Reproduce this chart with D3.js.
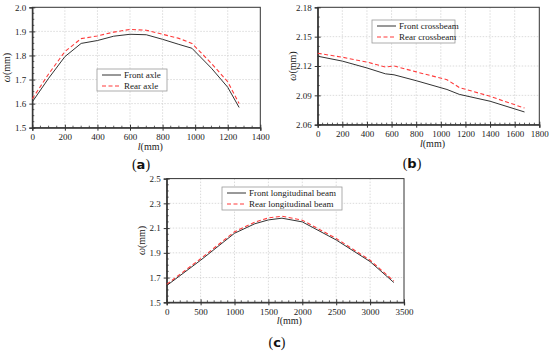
<!DOCTYPE html>
<html>
<head>
<meta charset="utf-8">
<script src="https://cdn.jsdelivr.net/npm/d3@7"></script>
<style>
  body { margin: 0; background: #fff; }
  svg text { font-family: "Liberation Serif", "DejaVu Serif", serif; }
</style>
</head>
<body>
<svg id="chart" width="550" height="353"></svg>
<script>
// Data
const axleL = [0, 100, 200, 300, 400, 500, 600, 700, 800, 900, 980, 1100, 1200, 1270];
const frontAxle = [1.607, 1.705, 1.795, 1.850, 1.862, 1.880, 1.888, 1.886, 1.867, 1.846, 1.830, 1.747, 1.668, 1.584];
const rearAxle  = [1.620, 1.723, 1.816, 1.870, 1.881, 1.897, 1.908, 1.905, 1.888, 1.871, 1.850, 1.767, 1.691, 1.600];

const crossL = [0, 200, 400, 550, 620, 800, 1050, 1150, 1400, 1680];
const frontCross = [2.130, 2.125, 2.118, 2.112, 2.111, 2.105, 2.096, 2.091, 2.084, 2.073];
const rearCross  = [2.133, 2.129, 2.124, 2.119, 2.120, 2.114, 2.106, 2.098, 2.089, 2.077];

const longL = [0, 500, 1000, 1300, 1500, 1700, 2000, 2500, 3000, 3350];
const frontLong = [1.635, 1.840, 2.058, 2.135, 2.166, 2.180, 2.150, 2.004, 1.829, 1.660];
const rearLong  = [1.645, 1.852, 2.070, 2.148, 2.182, 2.196, 2.164, 2.016, 1.840, 1.672];

const panels = [
    { tag: '(a)', xs: axleL, front: frontAxle, rear: rearAxle,
      names: ['Front axle', 'Rear axle'],
      xTicks: [0, 200, 400, 600, 800, 1000, 1200, 1400], yTicks: [1.5, 1.6, 1.7, 1.8, 1.9, 2.0],
      xMinor: 4, yMinor: 4, yFmt: '.1f',
      box: { l: 32.3, r: 260.3, t: 7.3, b: 127.7 },
      legend: { x: 97, y: 69, w: 70, h: 22 }, tagPos: [141, 164] },
    { tag: '(b)', xs: crossL, front: frontCross, rear: rearCross,
      names: ['Front crossbeam', 'Rear crossbeam'],
      xTicks: [0, 200, 400, 600, 800, 1000, 1200, 1400, 1600, 1800], yTicks: [2.06, 2.09, 2.12, 2.15, 2.18],
      xMinor: 5, yMinor: 3, yFmt: '.2f',
      box: { l: 317.7, r: 539.3, t: 7.3, b: 124.7 },
      legend: { x: 372, y: 20, w: 83, h: 23 }, tagPos: [412, 163] },
    { tag: '(c)', xs: longL, front: frontLong, rear: rearLong,
      names: ['Front longitudinal beam', 'Rear longitudinal beam'],
      xTicks: [0, 500, 1000, 1500, 2000, 2500, 3000, 3500], yTicks: [1.5, 1.7, 1.9, 2.1, 2.3, 2.5],
      xMinor: 5, yMinor: 4, yFmt: '.1f',
      box: { l: 166.7, r: 404, t: 178.6, b: 302.3 },
      legend: { x: 222, y: 187, w: 120, h: 23 }, tagPos: [277, 342] }
];

const svg = d3.select('#chart');
panels.forEach(drawPanel);

function drawPanel(p) {
    const b = p.box;
    const x = d3.scaleLinear().domain(d3.extent(p.xTicks)).range([b.l, b.r]);
    const y = d3.scaleLinear().domain(d3.extent(p.yTicks)).range([b.b, b.t]);
    const g = svg.append('g');

    // dotted grid
    g.selectAll('.gx').data(p.xTicks.slice(1, -1)).enter().append('line')
        .attr('x1', d => x(d)).attr('x2', d => x(d)).attr('y1', b.t).attr('y2', b.b)
        .attr('stroke', '#ccc').attr('stroke-width', 0.7).attr('stroke-dasharray', '1.5,1.5');
    g.selectAll('.gy').data(p.yTicks.slice(1, -1)).enter().append('line')
        .attr('x1', b.l).attr('x2', b.r).attr('y1', d => y(d)).attr('y2', d => y(d))
        .attr('stroke', '#ccc').attr('stroke-width', 0.7).attr('stroke-dasharray', '1.5,1.5');

    // frame
    g.append('rect').attr('x', b.l).attr('y', b.t).attr('width', b.r - b.l).attr('height', b.b - b.t)
        .attr('fill', 'none').attr('stroke', '#333').attr('stroke-width', 1);

    // minor ticks
    const xMinor = [];
    for (let i = 0; i < p.xTicks.length - 1; i++) {
        const step = (p.xTicks[i + 1] - p.xTicks[i]) / p.xMinor;
        for (let k = 1; k < p.xMinor; k++) xMinor.push(p.xTicks[i] + k * step);
    }
    const yMinor = [];
    for (let i = 0; i < p.yTicks.length - 1; i++) {
        const step = (p.yTicks[i + 1] - p.yTicks[i]) / p.yMinor;
        for (let k = 1; k < p.yMinor; k++) yMinor.push(p.yTicks[i] + k * step);
    }

    const xAxis = g.append('g').attr('transform', `translate(0,${b.b})`)
        .call(d3.axisBottom(x).tickValues(p.xTicks).tickSize(3).tickPadding(3).tickFormat(d3.format('d')));
    const yAxis = g.append('g').attr('transform', `translate(${b.l},0)`)
        .call(d3.axisLeft(y).tickValues(p.yTicks).tickSize(3).tickPadding(3).tickFormat(d3.format(p.yFmt)));
    [xAxis, yAxis].forEach(a => {
        a.attr('font-family', 'Liberation Serif').attr('font-size', 9);
        a.select('.domain').attr('stroke', '#333').attr('stroke-width', 1.3);
        a.selectAll('.tick line').attr('stroke', '#333');
        a.selectAll('text').attr('fill', '#222');
    });
    xAxis.selectAll('.tick line').attr('y1', -3).attr('y2', 3);
    yAxis.selectAll('.tick line').attr('x1', -3).attr('x2', 3);

    g.selectAll('.mx').data(xMinor).enter().append('line')
        .attr('x1', d => x(d)).attr('x2', d => x(d)).attr('y1', b.b - 2).attr('y2', b.b)
        .attr('stroke', '#333').attr('stroke-width', 0.8);
    g.selectAll('.my').data(yMinor).enter().append('line')
        .attr('x1', b.l).attr('x2', b.l + 2).attr('y1', d => y(d)).attr('y2', d => y(d))
        .attr('stroke', '#333').attr('stroke-width', 0.8);

    // lines
    const line = vals => d3.line().x((d, i) => x(p.xs[i])).y(d => y(d))(vals);
    g.append('path').attr('d', line(p.rear)).attr('fill', 'none')
        .attr('stroke', '#ff3b3b').attr('stroke-width', 1.1).attr('stroke-dasharray', '4,2.5');
    g.append('path').attr('d', line(p.front)).attr('fill', 'none')
        .attr('stroke', '#333').attr('stroke-width', 1);

    // axis titles
    const yt = g.append('text').attr('font-size', 10).attr('fill', '#222')
        .attr('text-anchor', 'middle')
        .attr('transform', `translate(${b.l - 22},${(b.t + b.b) / 2}) rotate(-90)`);
    yt.append('tspan').attr('font-style', 'italic').text('ω');
    yt.append('tspan').text('(mm)');
    const xt = g.append('text').attr('font-size', 10).attr('fill', '#222')
        .attr('text-anchor', 'middle').attr('x', (b.l + b.r) / 2 + 4).attr('y', b.b + 22);
    xt.append('tspan').attr('font-style', 'italic').text('l');
    xt.append('tspan').text('(mm)');

    // legend
    const L = p.legend;
    const lg = g.append('g');
    lg.append('rect').attr('x', L.x).attr('y', L.y).attr('width', L.w).attr('height', L.h)
        .attr('fill', '#fff').attr('stroke', '#999').attr('stroke-width', 0.8);
    [['#333', null], ['#ff3b3b', '4,2.5']].forEach(([c, dash], i) => {
        const yy = L.y + 6 + i * 11;
        lg.append('line').attr('x1', L.x + 5).attr('x2', L.x + 24).attr('y1', yy).attr('y2', yy)
            .attr('stroke', c).attr('stroke-width', i ? 1.1 : 1).attr('stroke-dasharray', dash);
        lg.append('text').attr('x', L.x + 27).attr('y', yy + 3).attr('font-size', 9).attr('fill', '#222')
            .text(p.names[i]);
    });

    // panel tag
    const tag = g.append('text').attr('x', p.tagPos[0]).attr('y', p.tagPos[1] + 5)
        .attr('text-anchor', 'middle').attr('font-size', 14).attr('fill', '#111');
    tag.append('tspan').text('(');
    tag.append('tspan').attr('font-weight', 'bold').style('font-family', '"DejaVu Sans", sans-serif')
        .attr('font-size', 13).text(p.tag.slice(1, 2));
    tag.append('tspan').text(')');
}
</script>
</body>
</html>
